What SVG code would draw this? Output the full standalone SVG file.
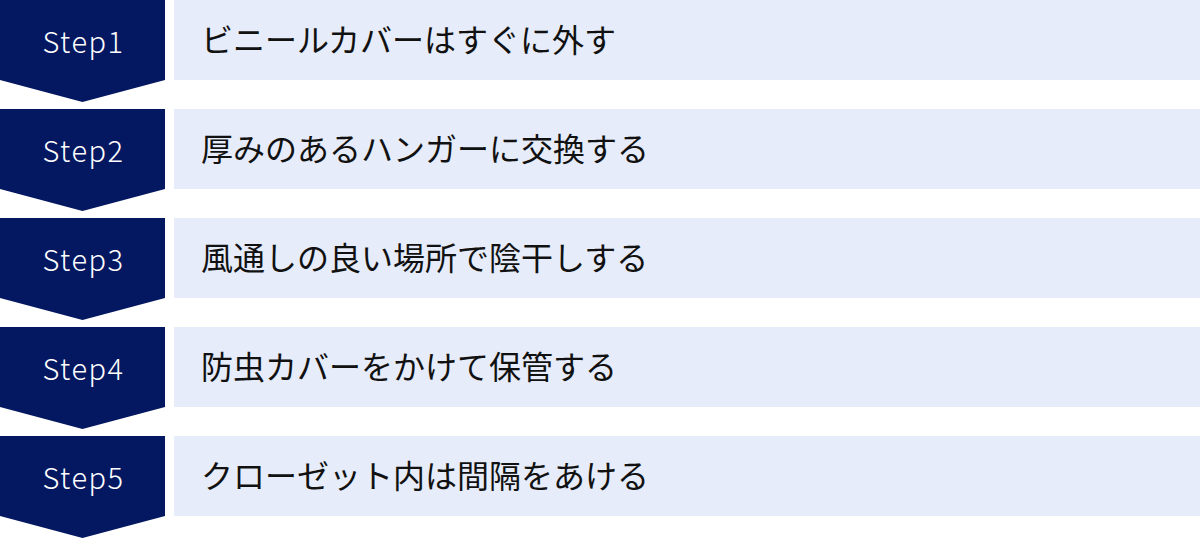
<svg xmlns="http://www.w3.org/2000/svg" width="1200" height="538" viewBox="0 0 1200 538">
<style>
.step{fill:#041761}
.box{fill:#e6ecf9}
.st{font-family:"Noto Sans CJK JP","Noto Sans",sans-serif;font-size:29px;font-weight:300;letter-spacing:1.5px;fill:#ffffff;text-anchor:middle}
.tx{font-family:"Noto Sans CJK JP","Noto Sans",sans-serif;font-size:32px;fill:#111111}
</style>
<rect width="1200" height="538" fill="#ffffff"/>
<g id="step1">
<polygon class="step" points="0,0 165,0 165,80 82.5,102 0,80"/>
<rect class="box" x="174" y="0" width="1026" height="80"/>
<text class="st" x="83.5" y="53">Step1</text>
<text class="tx" x="201" y="52">ビニールカバーはすぐに外す</text>
</g>
<g id="step2">
<polygon class="step" points="0,109 165,109 165,189 82.5,211 0,189"/>
<rect class="box" x="174" y="109" width="1026" height="80"/>
<text class="st" x="83.5" y="162">Step2</text>
<text class="tx" x="201" y="161">厚みのあるハンガーに交換する</text>
</g>
<g id="step3">
<polygon class="step" points="0,218 165,218 165,298 82.5,320 0,298"/>
<rect class="box" x="174" y="218" width="1026" height="80"/>
<text class="st" x="83.5" y="271">Step3</text>
<text class="tx" x="201" y="270">風通しの良い場所で陰干しする</text>
</g>
<g id="step4">
<polygon class="step" points="0,327 165,327 165,407 82.5,429 0,407"/>
<rect class="box" x="174" y="327" width="1026" height="80"/>
<text class="st" x="83.5" y="380">Step4</text>
<text class="tx" x="201" y="379">防虫カバーをかけて保管する</text>
</g>
<g id="step5">
<polygon class="step" points="0,436 165,436 165,516 82.5,538 0,516"/>
<rect class="box" x="174" y="436" width="1026" height="80"/>
<text class="st" x="83.5" y="489">Step5</text>
<text class="tx" x="201" y="488">クローゼット内は間隔をあける</text>
</g>
<g id="connectors"></g>
</svg>
